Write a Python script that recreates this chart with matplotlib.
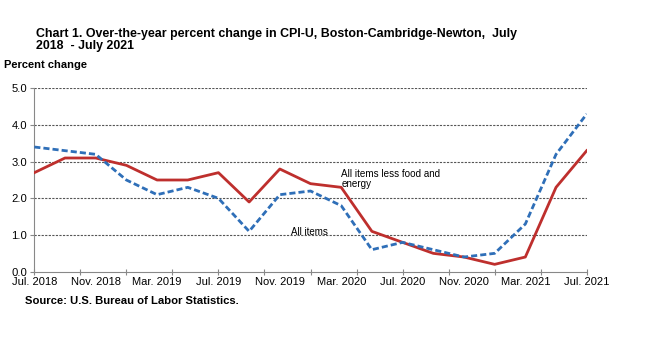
import numpy as np
import matplotlib
matplotlib.use("Agg")
import matplotlib.pyplot as plt

plt.rcParams['font.family'] = ['Liberation Sans', 'DejaVu Sans']

# bimonthly data, Jul 2018 .. Jul 2021 (month index from Jul 2018)
months = list(range(0, 37, 2))
all_items = [3.4, 3.3, 3.2, 2.5, 2.1, 2.3, 2.0, 1.1, 2.1, 2.2, 1.8,
             0.6, 0.8, 0.6, 0.4, 0.5, 1.3, 3.2, 4.3]
core = [2.7, 3.1, 3.1, 2.9, 2.5, 2.5, 2.7, 1.9, 2.8, 2.4, 2.3,
        1.1, 0.8, 0.5, 0.4, 0.2, 0.4, 2.3, 3.3]

label_pos = list(range(0, 37, 4))
tick_labels = ['Jul. 2018', 'Nov. 2018', 'Mar. 2019', 'Jul. 2019', 'Nov. 2019',
               'Mar. 2020', 'Jul. 2020', 'Nov. 2020', 'Mar. 2021', 'Jul. 2021']
yticks = [0, 1, 2, 3, 4, 5]

red = '#BE2F2D'
blue = '#2F6FB8'

fig = plt.figure(figsize=(6.7, 3.59), dpi=100)
ax = fig.add_axes([0.0512, 0.2432, 0.8245, 0.5108])

# gridlines ---------------------------------------------------------------
for y in yticks[1:]:
    ax.axhline(y, color='#555555', lw=0.8, ls=(0, (2, 1.2)), zorder=1)

ax.plot(months, core, color=red, lw=2, zorder=3)
ax.plot(months, all_items, color=blue, lw=2, ls=(0, (2.2, 1.1)), zorder=4)

ax.set_xlim(0, 36)
ax.set_ylim(0, 5)

# tick marks every 3 months, labels every 4 months
ax.xaxis.remove_overlapping_locs = False
ax.set_xticks(range(0, 37, 3))
ax.set_xticklabels([])
ax.set_xticks(label_pos, tick_labels, minor=True)
ax.tick_params(axis='x', which='major', direction='inout', length=5,
               color='#888888', width=0.8)
ax.tick_params(axis='x', which='minor', length=0, pad=4, labelsize=8.0)

ax.set_yticks(yticks, ['%.1f' % v for v in yticks])
ax.tick_params(axis='y', length=3, color='#888888', width=0.8, pad=2,
               labelsize=8.1)

for s in ['top', 'right']:
    ax.spines[s].set_visible(False)
ax.spines['left'].set_color('#888888')
ax.spines['bottom'].set_color('#888888')
ax.spines['left'].set_linewidth(0.8)
ax.spines['bottom'].set_linewidth(0.8)

ax.text(20.0, 2.8, 'All items less food and\nenergy', fontsize=7.1, va='top',
        ha='left', linespacing=1.05)
ax.text(16.7, 1.22, 'All items', fontsize=7, va='top', ha='left')

fig.text(36/670, 1 - 28/359, 'Chart 1. Over-the-year percent change in CPI-U, Boston-Cambridge-Newton,  July\n2018  - July 2021',
         fontsize=8.9, fontweight='bold', va='top', ha='left', linespacing=0.97)
fig.text(4/670, 1 - 65/359, 'Percent change', fontsize=8, fontweight='bold',
         va='center', ha='left')
fig.text(25/670, 1 - 301.5/359, 'Source: U.S. Bureau of Labor Statistics.',
         fontsize=8.1, fontweight='bold', va='center', ha='left')

fig.savefig('out.png', dpi=100)
